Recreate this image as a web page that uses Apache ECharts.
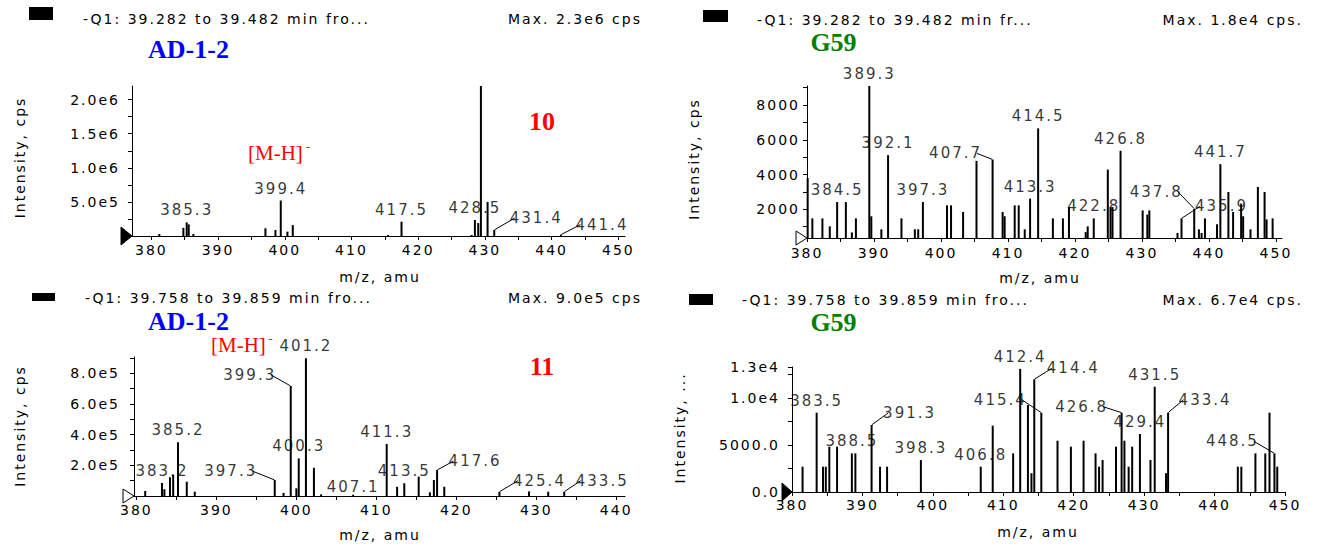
<!DOCTYPE html>
<html>
<head>
<meta charset="utf-8">
<title>MS spectra</title>
<script src="https://cdn.jsdelivr.net/npm/echarts@6.0.0/dist/echarts.min.js"></script>
<style>
  html, body { margin: 0; padding: 0; background: #fff; }
  #main { width: 1317px; height: 545px; }
  /* the Analyst screen font is wide, a little letter spacing gets close */
  #main text { letter-spacing: 2px; }
  #main text[style*="Serif"] { letter-spacing: 0; }
</style>
</head>
<body>
<div id="main"></div>
<script>
// ---- panel 1 : AD-1-2, -Q1 39.282-39.482 min ----
const mz1 = [381.2, 384.8, 385.3, 385.6, 386.3, 397.1, 398.6, 399.4, 400.4, 401.2, 415.5, 417.5, 428.0, 428.5, 429.0, 429.4, 430.4, 431.4, 441.4];
const int1 = [3e4, 1.2e5, 2.0e5, 1.7e5, 3e4, 1.13e5, 8.8e4, 5.2e5, 6.4e4, 1.6e5, 1.5e4, 2.1e5, 1.5e4, 2.35e5, 1.9e5, 2.21e6, 5.0e5, 8.8e4, 2e4];
const tag1 = ['385.3', '399.4', '417.5', '428.5', '429.4', '431.4', '441.4'];
const yVal1 = [5e5, 1e6, 1.5e6, 2e6];
const yLab1 = ['5.0e5', '1.0e6', '1.5e6', '2.0e6'];
const yTick1 = [2.5e5, 5e5, 7.5e5, 1e6, 1.25e6, 1.5e6, 1.75e6, 2e6];
const head1 = '-Q1: 39.282 to 39.482 min fro...';
const max1 = 'Max. 2.3e6 cps';

// ---- panel 2 : G59, same window ----
const mz2 = [380.1, 380.8, 382.3, 383.4, 384.5, 385.8, 386.7, 387.3, 389.3, 389.6, 391.1, 392.1, 394.1, 396.1, 396.6, 397.3, 400.9, 401.5, 403.3, 405.3, 407.7, 409.2, 409.5, 411.0, 411.6, 412.5, 413.3, 414.5, 416.7, 418.2, 419.1, 421.6, 421.9, 422.8, 424.9, 425.3, 425.6, 426.8, 430.1, 430.8, 431.1, 435.3, 435.9, 437.8, 438.5, 438.9, 439.4, 441.2, 441.7, 442.9, 443.6, 444.8, 445.1, 446.2, 447.3, 448.3, 448.6, 449.5];
const int2 = [3800, 1480, 1480, 1020, 2420, 2420, 670, 1480, 9100, 1600, 850, 5120, 1480, 850, 850, 2420, 2230, 2230, 1850, 4790, 4870, 1850, 1600, 2230, 2230, 850, 2620, 6660, 1480, 1480, 2130, 690, 1020, 1480, 4290, 2130, 2130, 5370, 1940, 1700, 1940, 640, 1480, 2040, 850, 640, 1480, 1140, 4600, 3000, 1850, 2330, 1600, 850, 3290, 3000, 1420, 1480];
const tag2 = ['384.5', '389.3', '392.1', '397.3', '407.7', '413.3', '414.5', '422.8', '426.8', '437.8', '435.9', '441.7'];
const yVal2 = [2000, 4000, 6000, 8000];
const yLab2 = ['2000', '4000', '6000', '8000'];
const yTick2 = [1000, 2000, 3000, 4000, 5000, 6000, 7000, 8000, 9000];
const head2 = '-Q1: 39.282 to 39.482 min fr...';
const max2 = 'Max. 1.8e4 cps.';

// ---- panel 3 : AD-1-2, -Q1 39.758-39.859 min ----
const mz3 = [381.1, 383.2, 383.5, 384.2, 384.6, 385.2, 386.3, 387.3, 397.3, 398.4, 399.3, 400.0, 400.3, 401.2, 402.2, 403.1, 407.1, 411.3, 412.6, 413.5, 415.3, 416.7, 417.2, 417.6, 418.5, 425.4, 429.1, 431.5, 433.5];
const int3 = [3.3e4, 8.5e4, 4.4e4, 1.22e5, 1.37e5, 3.5e5, 9.3e4, 2.8e4, 1.04e5, 2e4, 7.16e5, 5e4, 2.45e5, 8.97e5, 1.84e5, 1.1e4, 8e3, 3.39e5, 6e4, 8.3e4, 1.26e5, 2.4e4, 1.04e5, 1.69e5, 6e4, 2.8e4, 3e4, 2.8e4, 2.8e4];
const tag3 = ['383.2', '385.2', '397.3', '399.3', '400.3', '401.2', '407.1', '411.3', '413.5', '417.6', '425.4', '433.5'];
const yVal3 = [2e5, 4e5, 6e5, 8e5];
const yLab3 = ['2.0e5', '4.0e5', '6.0e5', '8.0e5'];
const yTick3 = [1e5, 2e5, 3e5, 4e5, 5e5, 6e5, 7e5, 8e5, 9e5];
const head3 = '-Q1: 39.758 to 39.859 min fro...';
const max3 = 'Max. 9.0e5 cps';

// ---- panel 4 : G59, same window ----
const mz4 = [381.5, 383.5, 384.4, 384.8, 385.3, 386.4, 388.5, 389.0, 391.3, 392.5, 393.5, 398.3, 406.8, 408.5, 411.4, 412.4, 413.5, 414.0, 414.4, 415.4, 417.7, 419.6, 421.4, 423.1, 423.6, 424.1, 426.0, 426.8, 427.2, 427.8, 428.3, 429.4, 430.9, 431.5, 433.1, 433.4, 443.3, 443.8, 445.8, 447.2, 447.8, 448.5, 448.9];
const int4 = [2690, 8440, 2690, 2690, 4820, 4820, 4110, 4110, 7130, 2690, 2690, 3400, 2690, 7060, 4110, 13100, 9260, 2000, 11990, 8440, 5460, 4820, 5460, 4110, 2690, 3400, 4820, 8440, 5460, 2690, 4820, 6170, 3400, 11200, 2000, 8440, 2690, 2690, 4110, 4110, 8440, 4110, 2690];
const tag4 = ['383.5', '388.5', '391.3', '398.3', '406.8', '412.4', '414.4', '415.4', '426.8', '429.4', '431.5', '433.4', '448.5'];
const yVal4 = [0, 5000, 10000, 13300];
const yLab4 = ['0.0', '5000.0', '1.0e4', '1.3e4'];
const yTick4 = [0, 2500, 5000, 7500, 10000, 12500, 13300];
const head4 = '-Q1: 39.758 to 39.859 min fro...';
const max4 = 'Max. 6.7e4 cps.';

// m/z ticks
const xMajor = [380, 390, 400, 410, 420, 430, 440, 450];
const xMinor = [380, 385, 390, 395, 400, 405, 410, 415, 420, 425, 430, 435, 440, 445, 450];

// labels that sit beside their peak with a little leader line (px)
const shift1 = {'431.4': [42, 0], '441.4': [41, 2]};
const shift2 = {'407.7': [-37, 6], '437.8': [-38, -5], '435.9': [40, 0]};
const shift3 = {'397.3': [-44, 3], '399.3': [-41, 1], '407.1': [0, 4], '417.6': [38, 3], '425.4': [40, 1], '433.5': [38, 1]};
const shift4 = {'391.3': [38, 0], '414.4': [39, 1], '415.4': [-41, -1], '426.8': [-40, 6], '433.4': [37, -1], '448.5': [-42, 0]};

const SANS = 'DejaVu Sans';
const SERIF = 'Liberation Serif';

function xAxis(idx, min, max, margin) {
  return {
    type: 'value', gridIndex: idx, min: min, max: max,
    splitLine: {show: false},
    axisLine: {show: true, onZero: false, lineStyle: {color: '#000', width: 1}},
    axisTick: {show: true, length: 4, lineStyle: {color: '#000'},
      customValues: xMinor.filter(v => v >= min && v <= max)},
    axisLabel: {customValues: xMajor.filter(v => v >= min && v <= max),
      margin: margin, color: '#000', fontFamily: SANS, fontSize: 14}
  };
}

function yAxis(idx, min, max, ticks, vals, labs, margin) {
  return {
    type: 'value', gridIndex: idx, min: min, max: max,
    splitLine: {show: false},
    axisLine: {show: true, lineStyle: {color: '#000', width: 1}},
    axisTick: {show: true, length: 4, lineStyle: {color: '#000'}, customValues: ticks},
    axisLabel: {customValues: vals, formatter: v => labs[vals.indexOf(v)],
      margin: margin, color: '#000', fontFamily: SANS, fontSize: 14}
  };
}

function bars(idx, mz, val) {
  return {
    type: 'bar', xAxisIndex: idx, yAxisIndex: idx, barWidth: 2, clip: true, silent: true,
    itemStyle: {color: '#000'},
    data: mz.map((m, i) => [m, val[i]])
  };
}

function tags(idx, mz, val, tag, shift) {
  const data = tag.map(t => ({
    name: t,
    value: [Number(t), val[mz.indexOf(Number(t))]],
    labelLine: {show: shift[t] !== undefined && shift[t][0] !== 0}
  }));
  return {
    type: 'scatter', xAxisIndex: idx, yAxisIndex: idx, z: 5, silent: true,
    symbolSize: 1, itemStyle: {color: 'rgba(0,0,0,0)'},
    label: {show: true, position: 'top', distance: 4, formatter: '{b}',
      color: '#000', fontFamily: SANS, fontSize: 15},
    labelLine: {length2: 0, lineStyle: {color: '#000', width: 1}},
    labelLayout: function (p) {
      const s = shift[data[p.dataIndex].name];
      return s ? {dx: s[0], dy: s[1]} : {};
    },
    data: data
  };
}

function txt(x, y, text, o) {
  return {type: 'text', x: x, y: y, silent: true,
    style: Object.assign({text: text, fill: '#000', fontFamily: SANS, fontSize: 14,
      align: 'left', verticalAlign: 'middle'}, o)};
}
function yName(x, y, text) {
  return Object.assign(txt(x, y, text, {align: 'center'}), {rotation: Math.PI / 2});
}
function box(x, y, w, h) {
  return {type: 'rect', silent: true, shape: {x: x, y: y, width: w, height: h}, style: {fill: '#000'}};
}
function arrow(pts, filled) {
  return {type: 'polygon', silent: true, shape: {points: pts},
    style: {fill: filled ? '#000' : '#fff', stroke: '#000', lineWidth: 1}};
}
const blueTitle = {fill: '#0000ff', fontFamily: SERIF, fontWeight: 'bold', fontSize: 26, align: 'center'};
const greenTitle = {fill: '#008000', fontFamily: SERIF, fontWeight: 'bold', fontSize: 26, align: 'center'};
const redNum = {fill: '#ff0000', fontFamily: SERIF, fontWeight: 'bold', fontSize: 26, align: 'center'};
const ion = {fill: '#ff0000', fontFamily: SERIF, fontSize: 21};
const ionSup = {fill: '#ff0000', fontFamily: SERIF, fontSize: 13};

const chart = echarts.init(document.getElementById('main'), null, {renderer: 'svg'});

const option = {
  animation: false,
  backgroundColor: '#fff',
  grid: [
    {left: 132, top: 86, width: 493, height: 150, outerBoundsMode: 'none'},
    {left: 807, top: 86, width: 475, height: 152, outerBoundsMode: 'none'},
    {left: 134, top: 357, width: 491, height: 139, outerBoundsMode: 'none'},
    {left: 792, top: 367, width: 493, height: 125, outerBoundsMode: 'none'}
  ],
  xAxis: [
    xAxis(0, 377.1, 451.0, 7),
    xAxis(1, 380, 450.9, 8),
    xAxis(2, 379.7, 441.1, 7),
    xAxis(3, 380, 450, 6)
  ],
  yAxis: [
    yAxis(0, 0, 2.2e6, yTick1, yVal1, yLab1, 12),
    yAxis(1, 350, 9100, yTick2, yVal2, yLab2, 7),
    yAxis(2, 0, 9.05e5, yTick3, yVal3, yLab3, 14),
    yAxis(3, 0, 13300, yTick4, yVal4, yLab4, 12)
  ],
  series: [
    bars(0, mz1, int1), tags(0, mz1, int1, tag1, shift1),
    bars(1, mz2, int2), tags(1, mz2, int2, tag2, shift2),
    bars(2, mz3, int3), tags(2, mz3, int3, tag3, shift3),
    bars(3, mz4, int4), tags(3, mz4, int4, tag4, shift4)
  ],
  graphic: [
    // panel 1
    box(29, 7, 24, 13),
    txt(83, 18.5, head1),
    txt(642, 18.5, max1, {align: 'right'}),
    txt(188.5, 49, 'AD-1-2', blueTitle),
    txt(248, 153, '[M-H]', ion),
    txt(306, 146, '-', ionSup),
    txt(542, 121, '10', redNum),
    yName(20, 157.5, 'Intensity, cps'),
    txt(380, 277, 'm/z, amu', {align: 'center'}),
    arrow([[121, 227], [132, 236], [121, 245]], true),
    // panel 2
    box(703, 10, 25, 12),
    txt(757, 19.5, head2),
    txt(1303, 19.5, max2, {align: 'right'}),
    txt(833.5, 42.5, 'G59', greenTitle),
    yName(693.5, 159, 'Intensity, cps'),
    txt(1040, 278, 'm/z, amu', {align: 'center'}),
    arrow([[796, 231], [807, 238], [796, 245]], false),
    // panel 3
    box(32, 293, 23, 8),
    txt(85, 298, head3),
    txt(642, 298, max3, {align: 'right'}),
    txt(188.5, 321, 'AD-1-2', blueTitle),
    txt(211, 344.5, '[M-H]', ion),
    txt(268.5, 338, '-', ionSup),
    txt(542, 366, '11', redNum),
    yName(20, 426, 'Intensity, cps'),
    txt(380, 535, 'm/z, amu', {align: 'center'}),
    arrow([[123, 489], [134, 496], [123, 503]], false),
    // panel 4
    box(689, 294, 24, 11),
    txt(742, 299.5, head4),
    txt(1303, 299.5, max4, {align: 'right'}),
    txt(833.5, 322.5, 'G59', greenTitle),
    yName(680, 428, 'Intensity, ...'),
    txt(1038, 532, 'm/z, amu', {align: 'center'}),
    arrow([[782, 483], [792, 492], [782, 501]], true)
  ]
};

chart.setOption(option);
</script>
</body>
</html>
